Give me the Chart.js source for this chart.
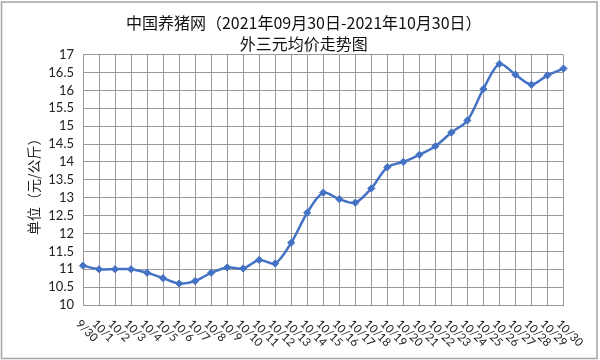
<!DOCTYPE html>
<html>
<head>
<meta charset="utf-8">
<script src="https://cdn.jsdelivr.net/npm/chart.js@4"></script>
<style>
html,body{margin:0;padding:0;background:#fff;}
#wrap{width:600px;height:360px;position:relative;}
</style>
</head>
<body>
<div id="wrap"><canvas id="c" width="600" height="360"></canvas></div>
<script>
const titleLines = ['中国养猪网（2021年09月30日-2021年10月30日）', '外三元均价走势图'];
const yAxisTitle = '单位（元/公斤）';
const categories = ['9/30','10/1','10/2','10/3','10/4','10/5','10/6','10/7','10/8','10/9','10/10',
  '10/11','10/12','10/13','10/14','10/15','10/16','10/17','10/18','10/19','10/20',
  '10/21','10/22','10/23','10/24','10/25','10/26','10/27','10/28','10/29','10/30'];
const prices = [11.1, 11.0, 11.0, 11.0, 10.9, 10.75, 10.6, 10.67, 10.9, 11.05, 11.02,
  11.26, 11.16, 11.74, 12.58, 13.14, 12.96, 12.86, 13.26, 13.85, 14.0,
  14.2, 14.44, 14.82, 15.16, 16.04, 16.74, 16.44, 16.16, 16.42, 16.61];
const yMin = 10, yMax = 17, yStep = 0.5;

const frame = {
  id: 'frame',
  beforeDraw(chart) {
    const ctx = chart.ctx;
    ctx.save();
    ctx.fillStyle = '#fff';
    ctx.fillRect(0, 0, chart.width, chart.height);
    ctx.strokeStyle = '#a3a3a3';
    ctx.lineWidth = 1.5;
    ctx.strokeRect(1.5, 2, 595.5, 356.5);
    ctx.restore();
  }
};
const rotatedLabels = {
  id: 'rotatedLabels',
  afterDraw(chart) {
    const sc = chart.scales.x;
    const ctx = chart.ctx;
    ctx.save();
    ctx.fillStyle = '#222';
    ctx.font = '11.5px Lato, "Liberation Sans", sans-serif';
    ctx.textAlign = 'left';
    ctx.textBaseline = 'middle';
    sc.ticks.forEach((t, i) => {
      const x = sc.getPixelForTick(i);
      ctx.save();
      ctx.translate(x - 5, chart.chartArea.bottom + 17);
      ctx.rotate(Math.PI / 4);
      ctx.fillText(categories[i], 0, 0);
      ctx.restore();
    });
    ctx.restore();
  }
};

new Chart(document.getElementById('c'), {
  type: 'line',
  data: {
    labels: categories,
    datasets: [{
      data: prices,
      borderColor: '#4472c4',
      backgroundColor: '#4472c4',
      borderWidth: 2.5,
      tension: 0.3,
      pointStyle: 'rectRot',
      pointRadius: 3.6,
      pointBorderWidth: 1,
      fill: false
    }]
  },
  options: {
    responsive: false,
    animation: false,
    devicePixelRatio: 1,
    layout: { padding: { left: 44, right: 36.5, top: 0, bottom: 0 } },
    plugins: {
      legend: { display: false },
      tooltip: { enabled: false },
      title: {
        display: true,
        text: titleLines,
        color: '#111',
        font: { family: '"Noto Sans CJK SC", Lato, sans-serif', size: 16, weight: 'normal', lineHeight: 1.3 },
        padding: { top: 13, bottom: 0 }
      }
    },
    scales: {
      x: {
        type: 'category',
        offset: false,
        grid: { color: '#999', lineWidth: 1, drawTicks: false },
        border: { color: '#999', width: 1 },
        ticks: { display: false },
        afterFit(s) { s.height = 55; }
      },
      y: {
        min: yMin, max: yMax,
        grid: { color: '#999', lineWidth: 1, drawTicks: false },
        border: { color: '#999', width: 1 },
        ticks: {
          stepSize: yStep,
          autoSkip: false,
          padding: 9,
          color: '#222',
          font: { family: 'Lato, "Liberation Sans", sans-serif', size: 13 },
          callback: (v) => String(Math.round(v * 10) / 10)
        },
        title: {
          display: true,
          text: yAxisTitle + '\u3000',
          color: '#222',
          font: { family: '"Noto Sans CJK SC", sans-serif', size: 14 },
          padding: { top: -18.4, bottom: 0 }
        },
        afterFit(s) { s.width = 39; }
      }
    }
  },
  plugins: [frame, rotatedLabels]
});
</script>
</body>
</html>
